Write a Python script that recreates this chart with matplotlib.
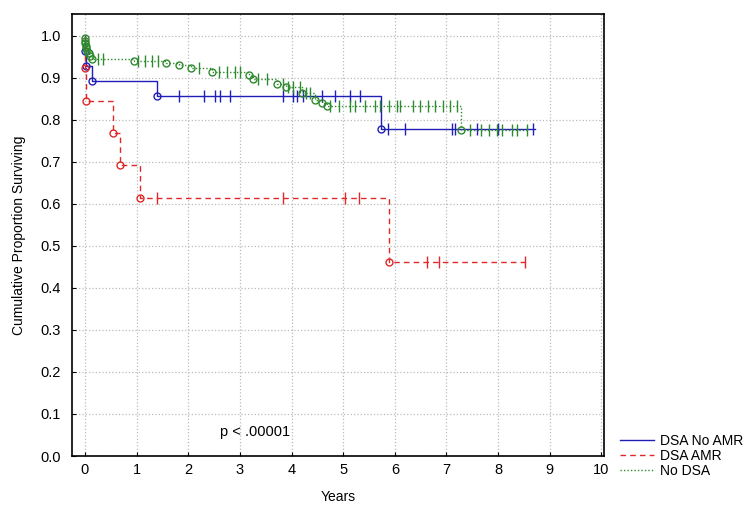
import matplotlib
matplotlib.use("Agg")
import matplotlib.pyplot as plt
import numpy as np

plt.rcParams['font.family'] = ['Liberation Sans Narrow', 'Liberation Sans', 'DejaVu Sans']

# Kaplan-Meier curves: event times / survival after event, censor times
blue_event_t = [0.0, 0.02, 0.14, 1.39, 5.74]
blue_event_s = [0.964, 0.929, 0.893, 0.857, 0.779]
blue_cens_t = [1.83, 2.31, 2.52, 2.62, 2.81, 3.84, 4.03, 4.10, 4.23, 4.59, 4.84,
               5.14, 5.33, 5.86, 6.20, 7.10, 7.17, 7.60, 8.00, 8.68]
blue_end = 8.72

red_event_t = [0.0, 0.02, 0.55, 0.68, 1.07, 5.88]
red_event_s = [0.923, 0.846, 0.769, 0.692, 0.615, 0.461]
red_cens_t = [1.39, 3.83, 5.04, 5.30, 6.63, 6.85, 8.53]
red_end = 8.55

green_event_t = [0.0, 0.0, 0.01, 0.02, 0.03, 0.05, 0.07, 0.10, 0.13, 0.95, 1.57,
                 1.83, 2.05, 2.47, 3.17, 3.26, 3.71, 3.90, 4.20, 4.46, 4.59, 4.68, 7.28]
green_event_s = [0.994, 0.988, 0.982, 0.976, 0.970, 0.964, 0.958, 0.952, 0.946, 0.940, 0.935,
                 0.930, 0.923, 0.915, 0.907, 0.898, 0.886, 0.878, 0.864, 0.848, 0.840, 0.832, 0.776]
green_cens_t = [0.26, 0.35, 1.02, 1.16, 1.29, 1.42, 2.20, 2.60, 2.75, 2.90, 3.00, 3.36, 3.52,
                3.84, 3.94, 4.03, 4.16, 4.29, 4.35, 4.75, 4.91, 5.14, 5.23, 5.43, 5.62,
                5.72, 5.88, 6.04, 6.10, 6.36, 6.49, 6.65, 6.78, 6.94, 7.07, 7.20, 7.46,
                7.66, 7.82, 7.98, 8.08, 8.27, 8.37, 8.56]
green_end = 8.56

series = [
    ("DSA No AMR", blue_event_t, blue_event_s, blue_cens_t, blue_end, "#1f1fb8", "-"),
    ("DSA AMR", red_event_t, red_event_s, red_cens_t, red_end, "#e02828", (0, (4, 3))),
    ("No DSA", green_event_t, green_event_s, green_cens_t, green_end, "#2f8a2f", (0, (1, 1.5))),
]

fig = plt.figure(figsize=(7.49, 5.12), dpi=100)
ax = fig.add_axes([72/749, 1-456/512, 532/749, 442/512])

handles = []
for name, et, es, ct, tend, col, ls in series:
    xs = [0.0] + et + [tend]
    ys = [1.0] + es + [es[-1]]
    h, = ax.step(xs, ys, where='post', color=col, lw=1.0, linestyle=ls, label=name)
    handles.append(h)
    ax.plot(et, es, 'o', ms=5, mfc='none', mec=col, mew=1.0, ls='none')
    # survival level at each censor time
    idx = np.searchsorted(et, ct, side='right') - 1
    cy = np.where(idx >= 0, np.array(es)[np.clip(idx, 0, None)], 1.0)
    ax.plot(ct, cy, '|', ms=9, mec=col, mew=1.0, ls='none')

ax.set_xlim(-0.25, 10.05)
ax.set_ylim(0.0, 1.052)
ax.set_xticks(range(0, 11))
ax.set_yticks(np.arange(0, 1.01, 0.1))
ax.set_yticklabels(['%.1f' % v for v in np.arange(0, 1.01, 0.1)])
ax.grid(True, color='#bbbbbb', linestyle=':', linewidth=0.9)
ax.tick_params(direction='in', labelsize=10.5, length=3)
ax.tick_params(axis='y', pad=8)
ax.tick_params(axis='x', pad=5)
for sp in ax.spines.values():
    sp.set_linewidth(1.2)

ax.set_xlabel('Years', fontsize=10)
ax.set_ylabel('Cumulative Proportion Surviving', fontsize=10)
ax.xaxis.set_label_coords(0.5, -0.077)
ax.yaxis.set_label_coords(-0.086, 0.5)

ax.text(2.62, 0.057, 'p < .00001', fontsize=10.5, va='center')

fig.legend(handles=handles, loc='upper left', bbox_to_anchor=(614/749, 1-428/512),
           frameon=False, fontsize=10, handlelength=2.5, handletextpad=0.4,
           labelspacing=0.1, borderaxespad=0)

fig.savefig('out.png', dpi=100)
